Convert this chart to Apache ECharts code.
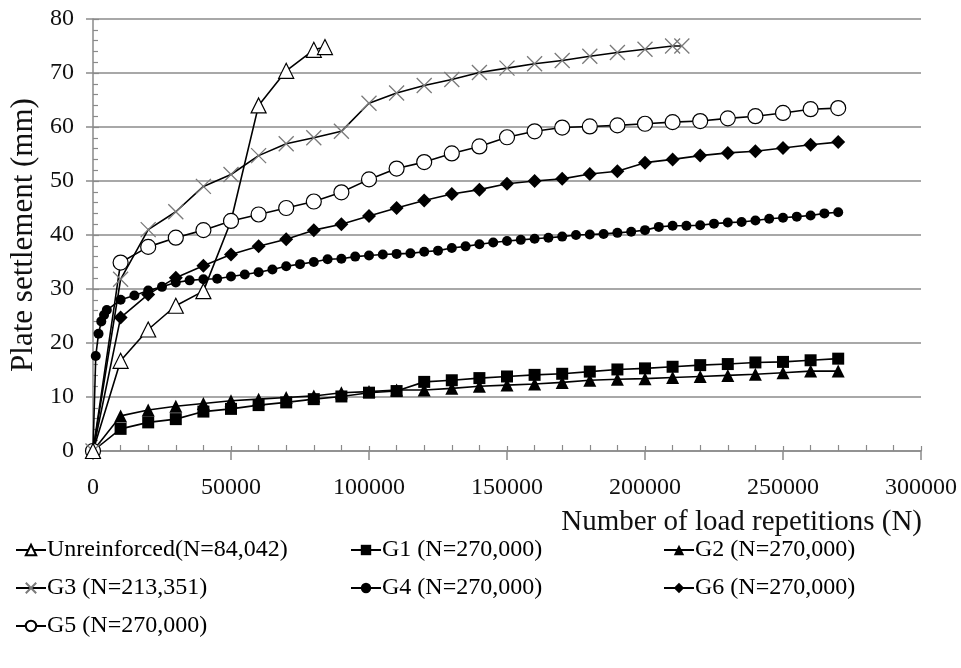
<!DOCTYPE html>
<html>
<head>
<meta charset="utf-8">
<script src="https://cdn.jsdelivr.net/npm/echarts@6/dist/echarts.min.js"></script>
<style>
  html, body { margin: 0; padding: 0; background: #fff; }
  #chart { width: 961px; height: 668px; }
</style>
</head>
<body>
<div id="chart"></div>
<script>
// Plate settlement (mm) against number of load repetitions N

const unreinforcedN = [0, 10000, 20000, 30000, 40000, 50000, 60000, 70000, 80000, 84042];
const unreinforcedS = [0, 16.7, 22.5, 26.9, 29.6, 42.6, 64.0, 70.4, 74.3, 74.8];
// the reading at 50000 sits under a G5 marker and carries no marker of its own
const unreinforcedHidden = [50000];

const stepN = [0, 10000, 20000, 30000, 40000, 50000, 60000, 70000, 80000, 90000,
  100000, 110000, 120000, 130000, 140000, 150000, 160000, 170000, 180000, 190000,
  200000, 210000, 220000, 230000, 240000, 250000, 260000, 270000];

const g1S = [0, 4.1, 5.3, 5.9, 7.3, 7.8, 8.5, 9.0, 9.6, 10.1, 10.8, 11.1, 12.8, 13.1,
  13.5, 13.8, 14.1, 14.3, 14.7, 15.1, 15.3, 15.6, 15.9, 16.1, 16.4, 16.5, 16.8, 17.1];

const g2S = [0, 6.5, 7.6, 8.3, 8.8, 9.3, 9.6, 9.9, 10.2, 10.8, 11.0, 11.3, 11.3, 11.6,
  12.0, 12.2, 12.4, 12.7, 13.1, 13.3, 13.4, 13.6, 13.8, 14.0, 14.2, 14.5, 14.8, 14.8];

const g3N = [0, 10000, 20000, 30000, 40000, 50000, 60000, 70000, 80000, 90000,
  100000, 110000, 120000, 130000, 140000, 150000, 160000, 170000, 180000, 190000,
  200000, 210000, 213351];
const g3S = [0, 31.8, 41.0, 44.3, 49.0, 51.2, 54.7, 56.9, 58.0, 59.2, 64.4, 66.3, 67.7,
  68.8, 70.1, 70.9, 71.7, 72.3, 73.1, 73.8, 74.4, 75.0, 75.0];

const g4N = [0, 1000, 2000, 3000, 4000, 5000, 10000, 15000, 20000, 25000, 30000, 35000,
  40000, 45000, 50000, 55000, 60000, 65000, 70000, 75000, 80000, 85000, 90000, 95000,
  100000, 105000, 110000, 115000, 120000, 125000, 130000, 135000, 140000, 145000,
  150000, 155000, 160000, 165000, 170000, 175000, 180000, 185000, 190000, 195000,
  200000, 205000, 210000, 215000, 220000, 225000, 230000, 235000, 240000, 245000,
  250000, 255000, 260000, 265000, 270000];
const g4S = [0, 17.6, 21.7, 24.0, 25.2, 26.1, 28.0, 28.8, 29.7, 30.4, 31.2, 31.6,
  31.8, 31.9, 32.3, 32.7, 33.1, 33.6, 34.2, 34.6, 35.0, 35.5, 35.6, 36.0,
  36.2, 36.4, 36.5, 36.6, 36.9, 37.1, 37.6, 37.9, 38.3, 38.6,
  38.9, 39.1, 39.3, 39.5, 39.7, 40.0, 40.1, 40.2, 40.4, 40.6,
  40.9, 41.5, 41.7, 41.7, 41.8, 42.1, 42.3, 42.4, 42.7, 43.0,
  43.2, 43.4, 43.6, 44.0, 44.2];

const g5S = [0, 34.9, 37.8, 39.5, 40.9, 42.6, 43.8, 45.0, 46.2, 47.9, 50.3, 52.3, 53.5,
  55.1, 56.4, 58.1, 59.2, 59.9, 60.1, 60.3, 60.6, 60.9, 61.1, 61.6, 62.0, 62.6, 63.3, 63.5];

const g6S = [0, 24.7, 29.0, 32.1, 34.3, 36.4, 37.9, 39.2, 40.9, 42.0, 43.5, 45.0, 46.4,
  47.6, 48.4, 49.5, 50.0, 50.4, 51.3, 51.8, 53.4, 54.0, 54.7, 55.2, 55.5, 56.1, 56.7, 57.2];

const yTicks = [0, 10, 20, 30, 40, 50, 60, 70, 80];
const xTicks = [0, 50000, 100000, 150000, 200000, 250000, 300000];

const names = {
  un: 'Unreinforced(N=84,042)',
  g1: 'G1 (N=270,000)',
  g2: 'G2 (N=270,000)',
  g3: 'G3 (N=213,351)',
  g4: 'G4 (N=270,000)',
  g5: 'G5 (N=270,000)',
  g6: 'G6 (N=270,000)'
};

const SERIF = '"Liberation Serif", "Times New Roman", serif';
const AXIS_GRAY = '#8a8a8a';

function pairs(xs, ys, hidden) {
  return xs.map((x, i) => {
    if (hidden && hidden.indexOf(x) >= 0) {
      return { value: [x, ys[i]], symbol: 'none' };
    }
    return [x, ys[i]];
  });
}

function lineSeries(name, data, symbol, size, itemStyle) {
  return {
    name: name,
    type: 'line',
    data: data,
    symbol: symbol,
    symbolSize: size,
    showAllSymbol: true,
    lineStyle: { color: '#000', width: 1.6 },
    itemStyle: itemStyle,
    emphasis: { disabled: true },
    z: 3
  };
}

const openStyle = { color: '#fff', borderColor: '#000', borderWidth: 1.2 };
const solidStyle = { color: '#000', borderColor: '#000', borderWidth: 0 };
const crossPath = 'path://M0,0L10,10M10,0L0,10';

const legendBase = {
  orient: 'vertical',
  itemWidth: 30,
  itemHeight: 13,
  itemGap: 14,
  textStyle: { fontFamily: SERIF, fontSize: 24, color: '#000', padding: [0, 0, 0, -4] },
  selectedMode: false
};

const chart = echarts.init(document.getElementById('chart'), null, { renderer: 'canvas' });

chart.setOption({
  animation: false,
  backgroundColor: '#fff',
  grid: { left: 91, right: 40, top: 19, bottom: 217, containLabel: false },
  legend: [
    Object.assign({}, legendBase, { left: 10, top: 533, data: [names.un, names.g3, names.g5] }),
    Object.assign({}, legendBase, { left: 345, top: 533, data: [names.g1, names.g4] }),
    Object.assign({}, legendBase, { left: 658, top: 533, data: [names.g2, names.g6] })
  ],
  xAxis: [
    {
      type: 'value',
      min: xTicks[0],
      max: xTicks[xTicks.length - 1],
      interval: xTicks[1] - xTicks[0],
      position: 'bottom',
      axisLine: { lineStyle: { color: AXIS_GRAY, width: 1.5 } },
      axisTick: { length: 9, lineStyle: { color: AXIS_GRAY, width: 1.5 } },
      axisLabel: {
        fontFamily: SERIF, fontSize: 24, color: '#111', margin: 25,
        formatter: (v) => String(v)
      },
      splitLine: { show: false },
      name: 'Number of load repetitions (N)',
      nameLocation: 'end',
      nameGap: 1,
      nameTextStyle: {
        fontFamily: SERIF, fontSize: 29, color: '#111',
        align: 'right', verticalAlign: 'top', padding: [57, 0, 0, 0]
      }
    },
    {
      type: 'value',
      min: xTicks[0],
      max: xTicks[xTicks.length - 1],
      interval: xTicks[1] - xTicks[0],
      position: 'bottom',
      axisLine: { show: false },
      axisTick: { inside: true, length: 5, lineStyle: { color: AXIS_GRAY, width: 1.2 } },
      minorTick: { show: true, splitNumber: 5, length: 6, lineStyle: { color: AXIS_GRAY, width: 1.2 } },
      axisLabel: { show: false },
      splitLine: { show: false }
    }
  ],
  yAxis: [
    {
      type: 'value',
      min: yTicks[0],
      max: yTicks[yTicks.length - 1],
      interval: yTicks[1] - yTicks[0],
      position: 'left',
      axisLine: { show: true, lineStyle: { color: AXIS_GRAY, width: 1.5 } },
      axisTick: { show: true, length: 7, lineStyle: { color: AXIS_GRAY, width: 1.5 } },
      axisLabel: { fontFamily: SERIF, fontSize: 24, color: '#111', margin: 19 },
      splitLine: { show: true, lineStyle: { color: '#a8a8a8', width: 1.8 } },
      name: 'Plate settlement (mm)',
      nameLocation: 'middle',
      nameGap: 54,
      nameTextStyle: { fontFamily: SERIF, fontSize: 31, color: '#111' }
    },
    {
      type: 'value',
      min: yTicks[0],
      max: yTicks[yTicks.length - 1],
      interval: yTicks[1] - yTicks[0],
      position: 'left',
      axisLine: { show: false },
      axisTick: { show: true, inside: true, length: 6, lineStyle: { color: AXIS_GRAY, width: 1.2 } },
      minorTick: { show: true, splitNumber: 5, length: 5, lineStyle: { color: AXIS_GRAY, width: 1.2 } },
      axisLabel: { show: false },
      splitLine: { show: false }
    }
  ],
  series: [
    lineSeries(names.g1, pairs(stepN, g1S), 'rect', 12, solidStyle),
    lineSeries(names.g2, pairs(stepN, g2S), 'triangle', 13, solidStyle),
    lineSeries(names.g4, pairs(g4N, g4S), 'circle', 10, solidStyle),
    lineSeries(names.g6, pairs(stepN, g6S), 'diamond', 14, solidStyle),
    lineSeries(names.g5, pairs(stepN, g5S), 'circle', 15, openStyle),
    lineSeries(names.g3, pairs(g3N, g3S), crossPath, 15, { color: '#7a7a7a', borderColor: '#7a7a7a', borderWidth: 1.3 }),
    lineSeries(names.un, pairs(unreinforcedN, unreinforcedS, unreinforcedHidden), 'triangle', 15, openStyle)
  ]
});
</script>
</body>
</html>
